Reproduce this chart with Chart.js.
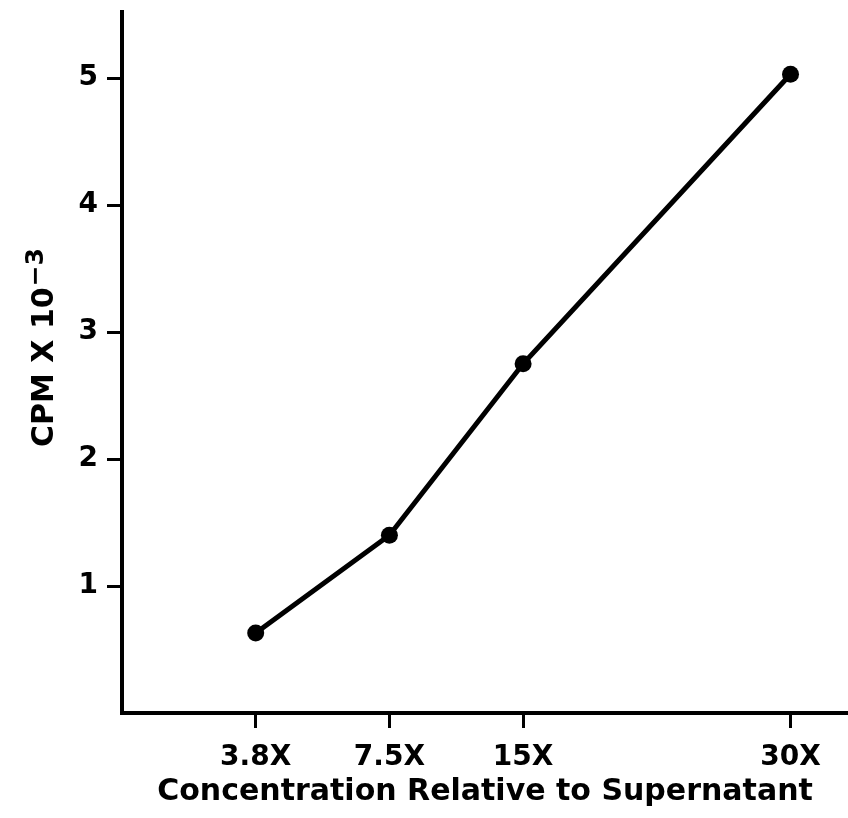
<!DOCTYPE html>
<html>
<head>
<meta charset="utf-8">
<script src="https://cdn.jsdelivr.net/npm/chart.js@4/dist/chart.umd.min.js"></script>
<style>
  html, body { margin: 0; padding: 0; background: #ffffff; }
  #wrap { width: 848px; height: 818px; }
</style>
</head>
<body>
<div id="wrap"><canvas id="c" width="848" height="818"></canvas></div>
<script>
// ---- data ----
const categories = ['3.8X', '7.5X', '15X', '30X'];
const categoryPositions = [1, 2, 3, 5];
const cpmValues = [0.63, 1.40, 2.75, 5.03];
const yTickValues = [1, 2, 3, 4, 5];
const xTitle = 'Concentration Relative to Supernatant';
const yTitleBase = 'CPM X 10';
const yTitleExp = '\u22123';

const points = categoryPositions.map((p, i) => ({ x: p, y: cpmValues[i] }));
const FONT = "'DejaVu Sans', sans-serif";

function noPad(s) { s.paddingTop = 0; s.paddingBottom = 0; s.paddingLeft = 0; s.paddingRight = 0; }

const yTitlePlugin = {
  id: 'yTitle',
  afterDraw(chart) {
    const ctx = chart.ctx;
    ctx.save();
    ctx.fillStyle = '#000';
    ctx.textBaseline = 'middle';
    ctx.textAlign = 'left';
    const fMain = 'bold 30px ' + FONT;
    const fExp = 'bold 25px ' + FONT;
    ctx.font = fMain;
    const wMain = ctx.measureText(yTitleBase).width;
    ctx.font = fExp;
    const wExp = ctx.measureText(yTitleExp).width;
    const total = wMain + wExp;
    ctx.translate(45, 348);
    ctx.rotate(-Math.PI / 2);
    const start = -total / 2;
    ctx.font = fMain;
    ctx.fillText(yTitleBase, start, 0);
    ctx.font = fExp;
    ctx.fillText(yTitleExp, start + wMain + 1, -9);
    ctx.restore();
  }
};

new Chart(document.getElementById('c'), {
  type: 'line',
  data: {
    datasets: [{
      data: points,
      borderColor: '#000',
      backgroundColor: '#000',
      borderWidth: 5,
      pointRadius: 8.5,
      pointHoverRadius: 8.5,
      pointBackgroundColor: '#000',
      pointBorderWidth: 0,
      tension: 0,
      fill: false,
      clip: false
    }]
  },
  plugins: [yTitlePlugin],
  options: {
    responsive: false,
    animation: false,
    events: [],
    layout: { autoPadding: false, padding: { top: 12, right: 0, bottom: 0, left: 0 } },
    plugins: { legend: { display: false }, tooltip: { enabled: false } },
    scales: {
      x: {
        type: 'linear',
        min: 0,
        max: 5.43,
        afterFit: s => { s.height = 105; noPad(s); },
        afterBuildTicks: s => { s.ticks = categoryPositions.map(v => ({ value: v })); },
        ticks: {
          autoSkip: false,
          maxRotation: 0,
          color: '#000',
          padding: 13,
          font: { family: FONT, size: 28, weight: 'bold' },
          callback: v => { const i = categoryPositions.indexOf(v); return i >= 0 ? categories[i] : ''; }
        },
        grid: { display: true, drawOnChartArea: false, drawTicks: true, tickLength: 15, color: '#000', lineWidth: 3 },
        border: { display: true, color: '#000', width: 4 },
        title: {
          display: true,
          text: xTitle,
          color: '#000',
          font: { family: FONT, size: 30, weight: 'bold' },
          padding: { top: 0, bottom: 8 }
        }
      },
      y: {
        type: 'linear',
        min: 0,
        max: 5.52,
        afterFit: s => { s.width = 122; noPad(s); },
        afterBuildTicks: s => { s.ticks = yTickValues.map(v => ({ value: v })); },
        ticks: {
          color: '#000',
          padding: 9,
          font: { family: FONT, size: 28, weight: 'bold' }
        },
        grid: { display: true, drawOnChartArea: false, drawTicks: true, tickLength: 15, color: '#000', lineWidth: 3 },
        border: { display: true, color: '#000', width: 4 },
        title: { display: false }
      }
    }
  }
});
</script>
</body>
</html>
